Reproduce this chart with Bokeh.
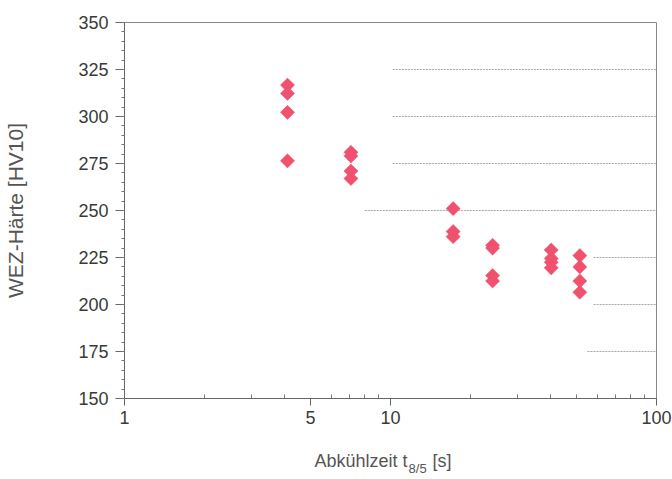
import numpy as np
from bokeh.plotting import figure
from bokeh.models import FixedTicker, LinearAxis, PrintfTickFormatter
from bokeh.embed import file_html
from bokeh.resources import INLINE

# Cooling time t8/5 [s] and HAZ hardness [HV10]
t85 = [4.1, 4.1, 4.1, 4.1,
       7.1, 7.1, 7.1, 7.1,
       17.2, 17.2, 17.2,
       24.2, 24.2, 24.2, 24.2,
       40.2, 40.2, 40.2, 40.2,
       51.5, 51.5, 51.5, 51.5]
hv10 = [316.7, 312.3, 302.2, 276.4,
        281.0, 279.0, 271.0, 267.0,
        251.0, 238.8, 236.1,
        231.5, 230.0, 215.4, 212.5,
        229.0, 224.5, 222.5, 219.5,
        226.0, 220.0, 212.5, 206.5]

x_ticks = [1, 5, 10, 100]
x_minor = [2, 3, 4, 6, 7, 8, 9, 20, 30, 40, 50, 60, 70, 80, 90]
y_ticks = [150, 175, 200, 225, 250, 275, 300, 325, 350]
y_minor = list(range(150, 351, 5))

# faint horizontal guide lines (level, start of dotted run)
grid_levels = [325, 300, 275, 250, 225, 200, 175]
grid_start = [10.2, 10.2, 10.2, 8.0, 58.0, 58.0, 55.0]
grid_end = [100, 100, 100, 100, 100, 100, 100]

FONT = "Liberation Sans"
NB = "\u00a0"

p = figure(width=672, height=479, x_axis_type="log",
           x_range=(1, 100), y_range=(150, 350),
           output_backend="svg", toolbar_location=None,
           min_border_left=124, min_border_right=16,
           min_border_top=22, min_border_bottom=81)

p.background_fill_color = "white"
p.border_fill_color = "white"
p.outline_line_color = "#888888"
p.outline_line_width = 1
p.xgrid.visible = False
p.ygrid.visible = False

p.segment(x0=grid_start, y0=grid_levels, x1=grid_end, y1=grid_levels,
          line_color="#a8a8a8", line_width=1, line_dash="2 1")

p.scatter(t85, hv10, marker="square", angle=np.pi / 4, size=10,
          fill_color="#f0516f", line_color="#f0516f", line_width=0.5)

# x axis
xa = p.xaxis[0]
xa.ticker = FixedTicker(ticks=x_ticks, minor_ticks=x_minor)
xa.formatter = PrintfTickFormatter(format="%d")
xa.major_label_text_font = FONT
xa.major_label_text_font_size = "18px"
xa.major_label_text_color = "#3a3a3a"
xa.major_label_standoff = 5
xa.major_tick_out = 7
xa.major_tick_in = 0
xa.minor_tick_out = 0
xa.minor_tick_in = 4
xa.axis_line_color = "#666666"
xa.major_tick_line_color = "#666666"
xa.minor_tick_line_color = "#777777"
xa.axis_label = "Abkühlzeit t" + NB * 4 + " [s]" + NB * 3
xa.axis_label_text_font = FONT
xa.axis_label_text_font_size = "18px"
xa.axis_label_text_font_style = "normal"
xa.axis_label_text_color = "#555555"
xa.axis_label_standoff = 24

# subscript of t8/5, carried by a bare axis stacked under the x axis
sub = LinearAxis(ticker=FixedTicker(ticks=[]), axis_line_color=None,
                 major_tick_line_color=None, minor_tick_line_color=None,
                 major_tick_out=0, minor_tick_out=0, major_tick_in=0,
                 minor_tick_in=0, major_label_standoff=0,
                 major_label_text_font_size="0px")
sub.axis_label = NB * 15 + "8/5"
sub.axis_label_text_font = FONT
sub.axis_label_text_font_size = "13px"
sub.axis_label_text_font_style = "normal"
sub.axis_label_text_color = "#555555"
sub.axis_label_standoff = -13
p.add_layout(sub, "below")

# y axis
ya = p.yaxis[0]
ya.ticker = FixedTicker(ticks=y_ticks, minor_ticks=y_minor)
ya.major_label_text_font = FONT
ya.major_label_text_font_size = "18px"
ya.major_label_text_color = "#3a3a3a"
ya.major_label_standoff = 7
ya.major_tick_out = 9
ya.major_tick_in = 0
ya.minor_tick_out = 3
ya.minor_tick_in = 0
ya.axis_line_color = "#666666"
ya.major_tick_line_color = "#666666"
ya.minor_tick_line_color = "#777777"
ya.axis_label = "WEZ-Härte [HV10]"
ya.axis_label_text_font = FONT
ya.axis_label_text_font_size = "21px"
ya.axis_label_text_font_style = "normal"
ya.axis_label_text_color = "#555555"
ya.axis_label_standoff = 48

open("out.html", "w").write(file_html(p, INLINE))
